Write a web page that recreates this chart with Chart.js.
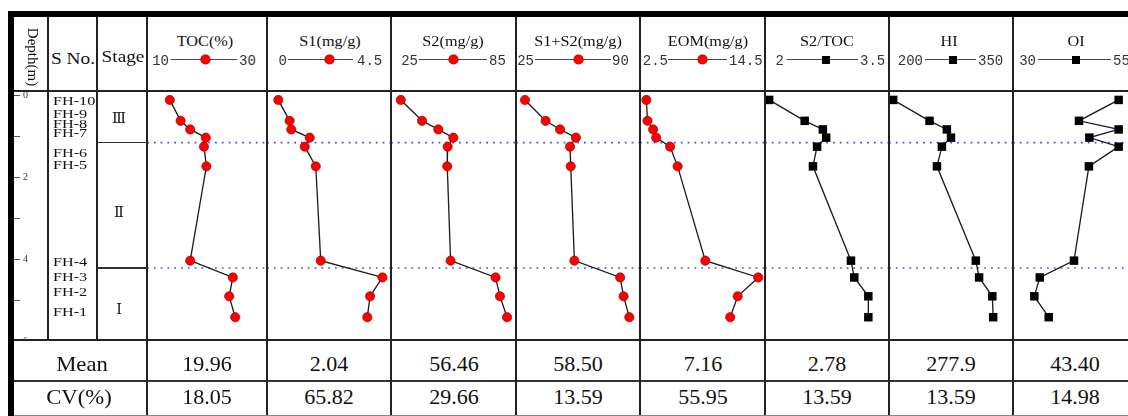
<!DOCTYPE html>
<html><head><meta charset="utf-8">
<script src="https://cdn.jsdelivr.net/npm/chart.js@4.4.1/dist/chart.umd.min.js"></script>
<style>
html,body{margin:0;padding:0;overflow:hidden;background:#fff;width:1128px;height:416px}
#fig{position:absolute;left:0;top:0;width:1140px;height:416px;font-family:"Liberation Serif","Times New Roman",serif;color:#111}
.ln{position:absolute;background:#222;z-index:3}
.t{position:absolute;white-space:nowrap;line-height:1;z-index:4}
.mk{position:absolute;z-index:4}
canvas{position:absolute;z-index:1}
</style></head><body><div id="fig"></div><script>
// ---------------- data ----------------
const sampleNames = ['FH-10','FH-9','FH-8','FH-7','FH-6','FH-5','FH-4','FH-3','FH-2','FH-1'];
const sampleDepth = [0.12, 0.63, 0.84, 1.04, 1.26, 1.74, 4.04, 4.45, 4.91, 5.42];
const stageNames = ['Ⅲ','Ⅱ','Ⅰ'];
const stageBoundaries = [1.16, 4.22];
const depthMin = 0, depthMax = 6, depthStep = 1, depthLabelEvery = 2;

const panelTitles = ['TOC(%)','S1(mg/g)','S2(mg/g)','S1+S2(mg/g)','EOM(mg/g)','S2/TOC','HI','OI'];
const axisMin = [10, 0, 25, 25, 2.5, 2, 200, 30];
const axisMax = [30, 4.5, 85, 90, 14.5, 3.5, 350, 55];
const axisMinLabel = ['10','0','25','25','2.5','2','200','30'];
const axisMaxLabel = ['30','4.5','85','90','14.5','3.5','350','55'];

const TOC   = [13.8, 15.6, 17.2, 19.8, 19.5, 19.9, 17.2, 24.3, 23.7, 24.7];
const S1    = [0.41, 0.82, 0.88, 1.55, 1.37, 1.77, 1.95, 4.19, 3.74, 3.64];
const S2    = [29.7, 39.9, 47.7, 54.9, 52.2, 52.0, 53.6, 75.2, 77.3, 80.7];
const S1S2  = [29.7, 40.5, 48.1, 56.4, 53.3, 53.7, 55.6, 79.6, 81.4, 84.4];
const EOM   = [3.11, 3.22, 3.76, 4.05, 5.39, 6.11, 8.77, 13.85, 11.88, 11.16];
const S2TOC = [2.05, 2.48, 2.70, 2.74, 2.63, 2.58, 3.04, 3.08, 3.25, 3.25];
const HI    = [205, 249, 270, 275, 264, 258, 305, 309, 325, 326];
const OI    = [51.3, 43.3, 51.3, 45.4, 51.3, 45.3, 42.3, 35.4, 34.3, 37.2];

const meanValues = ['19.96','2.04','56.46','58.50','7.16','2.78','277.9','43.40'];
const cvValues   = ['18.05','65.82','29.66','13.59','55.95','13.59','13.59','14.98'];

// ---------------- layout ----------------
const colEdges = [147, 267, 391, 516, 640, 765, 889, 1013, 1137];
const titleX = [205, 330, 453, 578, 708, 827, 949, 1076];
const legLineStart = [171, 288, 419, 535, 668, 787, 925, 1038];
const legMarkerX   = [205, 329, 453, 578, 702.5, 826, 952.7, 1076];
const legLineEnd   = [237, 353, 487, 611, 727, 858, 976, 1111];
const legMinRight  = [169, 287, 418, 534, 668, 784, 923, 1036];
const legMaxLeft   = [239, 357, 489, 612, 729, 860, 978, 1113];
const sampleLabelY = [101, 114, 124, 133, 153, 165, 262, 277, 292, 312];
const stageLabelY  = [118, 212, 309];
const PLOT_TOP = 91, PLOT_H = 250, PAD_TOP = 4;

const fig = document.getElementById('fig');
function rect(x, y, w, h, color) {
  const d = document.createElement('div'); d.className = 'ln';
  Object.assign(d.style, {left: x+'px', top: y+'px', width: w+'px', height: h+'px'});
  if (color) d.style.background = color;
  fig.appendChild(d); return d;
}
function text(str, x, y, o) {
  const d = document.createElement('div'); d.className = 't'; d.textContent = str;
  d.style.fontSize = o.size + 'px';
  if (o.family) d.style.fontFamily = o.family;
  if (o.color) d.style.color = o.color;
  d.style.left = x + 'px'; d.style.top = y + 'px';
  const a = o.anchor || 'c';
  const tx = a === 'l' ? '0' : a === 'r' ? '-100%' : '-50%';
  d.style.transformOrigin = a === 'l' ? 'left center' : a === 'r' ? 'right center' : 'center center';
  d.style.transform = `translate(${tx},-50%)` + (o.rotate ? ` rotate(${o.rotate}deg)` : '') + ` scaleX(${o.sx || 1})`;
  fig.appendChild(d); return d;
}
function makeCanvas(left, top, w, h) {
  const c = document.createElement('canvas'); c.width = w; c.height = h;
  Object.assign(c.style, {left: left+'px', top: top+'px', width: w+'px', height: h+'px'});
  fig.appendChild(c); return c;
}

// ---------------- frame ----------------
rect(8, 11, 1132, 6, '#000');           // thick top border
rect(8, 11, 6, 405, '#000');            // thick left border
rect(14, 90, 1126, 2, '#222');          // header bottom
rect(14, 339, 1126, 2, '#222');         // plot bottom
rect(14, 380, 1126, 2, '#333');         // mean bottom
rect(14, 415, 1126, 1, '#888');         // cv bottom
[48, 97].forEach(x => rect(x - 1, 17, 2, 323, '#222'));
colEdges.forEach(x => rect(x - 1, 17, 2, 398, '#222'));

// ---------------- header texts ----------------
text('Depth(m)', 32, 57, {size: 15, rotate: 90});
text('S No.', 73, 59, {size: 16.5, sx: 1.17});
text('Stage', 123, 57, {size: 16.5, sx: 1.17});
const monoF = '"Liberation Mono","DejaVu Sans Mono",monospace';
panelTitles.forEach((t, i) => {
  text(t, titleX[i], 41, {size: 14.5, sx: 1.12});
  text(axisMinLabel[i], legMinRight[i], 60.5, {size: 14, family: monoF, anchor: 'r', color: '#333'});
  text(axisMaxLabel[i], legMaxLeft[i], 60.5, {size: 14, family: monoF, anchor: 'l', color: '#333'});
  rect(legLineStart[i], 58.5, legLineEnd[i] - legLineStart[i], 1.6, '#444');
  const m = document.createElement('div'); m.className = 'mk';
  if (i < 5) {
    Object.assign(m.style, {left: (legMarkerX[i]-4.5)+'px', top: '54.5px', width: '9px', height: '9px',
      borderRadius: '50%', background: '#ff0000', boxShadow: '0 0 0 0.6px #a00000'});
  } else {
    Object.assign(m.style, {left: (legMarkerX[i]-4)+'px', top: '55.5px', width: '8px', height: '8px', background: '#000'});
  }
  fig.appendChild(m);
});

// ---------------- sample & stage labels ----------------
sampleNames.forEach((n, k) => text(n, 53, sampleLabelY[k], {size: 13.5, anchor: 'l', sx: 1.2}));
const romanF = '"DejaVu Serif","Noto Sans CJK SC",serif';
stageNames.forEach((s, k) => text(s, 119, stageLabelY[k], {size: 14.5, family: romanF}));

// ---------------- bottom table ----------------
text('Mean', 82, 364, {size: 21, sx: 1.08});
text('CV(%)', 79, 397, {size: 21, sx: 1.08});
meanValues.forEach((v, i) => text(v, (colEdges[i] + colEdges[i+1]) / 2, 364, {size: 21, sx: 1.05}));
cvValues.forEach((v, i) => text(v, (colEdges[i] + colEdges[i+1]) / 2, 397, {size: 21, sx: 1.05}));

// ---------------- charts ----------------
const boundaryPlugin = {
  id: 'stageBoundaries',
  beforeDatasetsDraw(chart) {
    const {ctx, chartArea, scales: {y}} = chart;
    ctx.save();
    ctx.strokeStyle = '#4d4dff'; ctx.lineWidth = 1.7; ctx.setLineDash([1.8, 5]);
    stageBoundaries.forEach(b => {
      const py = y.getPixelForValue(b);
      ctx.beginPath(); ctx.moveTo(chartArea.left, py); ctx.lineTo(chartArea.right, py); ctx.stroke();
    });
    ctx.restore();
  }
};

// depth axis
const DEPTH_TOP = 85;
const depthCanvas = makeCanvas(8, DEPTH_TOP, 40, PLOT_TOP + PLOT_H - DEPTH_TOP);
const depthChart = new Chart(depthCanvas, {
  type: 'line',
  data: {datasets: []},
  options: {
    responsive: false, animation: false, devicePixelRatio: 1, events: [],
    layout: {autoPadding: false, padding: {top: PAD_TOP + (PLOT_TOP - DEPTH_TOP), bottom: 0, left: 0, right: 0}},
    plugins: {legend: {display: false}, tooltip: {enabled: false}},
    scales: {
      x: {type: 'linear', display: false},
      y: {
        type: 'linear', position: 'right', reverse: true, min: depthMin, max: depthMax,
        ticks: {stepSize: depthStep, autoSkip: false, padding: 3, color: '#333',
          font: {family: '"Liberation Serif",serif', size: 10},
          callback: v => (v % depthLabelEvery === 0 ? String(v) : '')},
        grid: {drawOnChartArea: false, tickLength: 6, color: '#555', lineWidth: 1},
        border: {display: false},
        afterFit: s => { s.width = 34; s.paddingTop = 0; s.paddingBottom = 0; }
      }
    }
  }
});

// stage dividers in Stage column, positioned via the depth scale
const ys = depthChart.scales.y;
stageBoundaries.forEach(b => {
  const py = DEPTH_TOP + ys.getPixelForValue(b);
  rect(97, py - 0.75, 50, 1.5, '#333');
});

const panelSeries = [TOC, S1, S2, S1S2, EOM, S2TOC, HI, OI];
panelSeries.forEach((vals, i) => {
  const left = colEdges[i], w = colEdges[i+1] - colEdges[i];
  const c = makeCanvas(left, PLOT_TOP, w, PLOT_H);
  const red = i < 5;
  new Chart(c, {
    type: 'line',
    data: {datasets: [{
      data: vals.map((v, k) => ({x: v, y: sampleDepth[k]})),
      borderColor: '#1a1a1a', borderWidth: 1.3, tension: 0, fill: false,
      pointStyle: red ? 'circle' : 'rect',
      pointRadius: red ? 4.6 : 6,
      pointBackgroundColor: red ? '#ff0000' : '#000',
      pointBorderColor: red ? '#9a0000' : '#000',
      pointBorderWidth: red ? 0.7 : 0
    }]},
    options: {
      responsive: false, animation: false, devicePixelRatio: 1, events: [],
      layout: {autoPadding: false, padding: {top: PAD_TOP, bottom: 0, left: 0, right: 0}},
      plugins: {legend: {display: false}, tooltip: {enabled: false}},
      scales: {
        x: {type: 'linear', min: axisMin[i], max: axisMax[i], display: false},
        y: {type: 'linear', min: depthMin, max: depthMax, reverse: true, display: false}
      }
    },
    plugins: [boundaryPlugin]
  });
});
</script></body></html>
